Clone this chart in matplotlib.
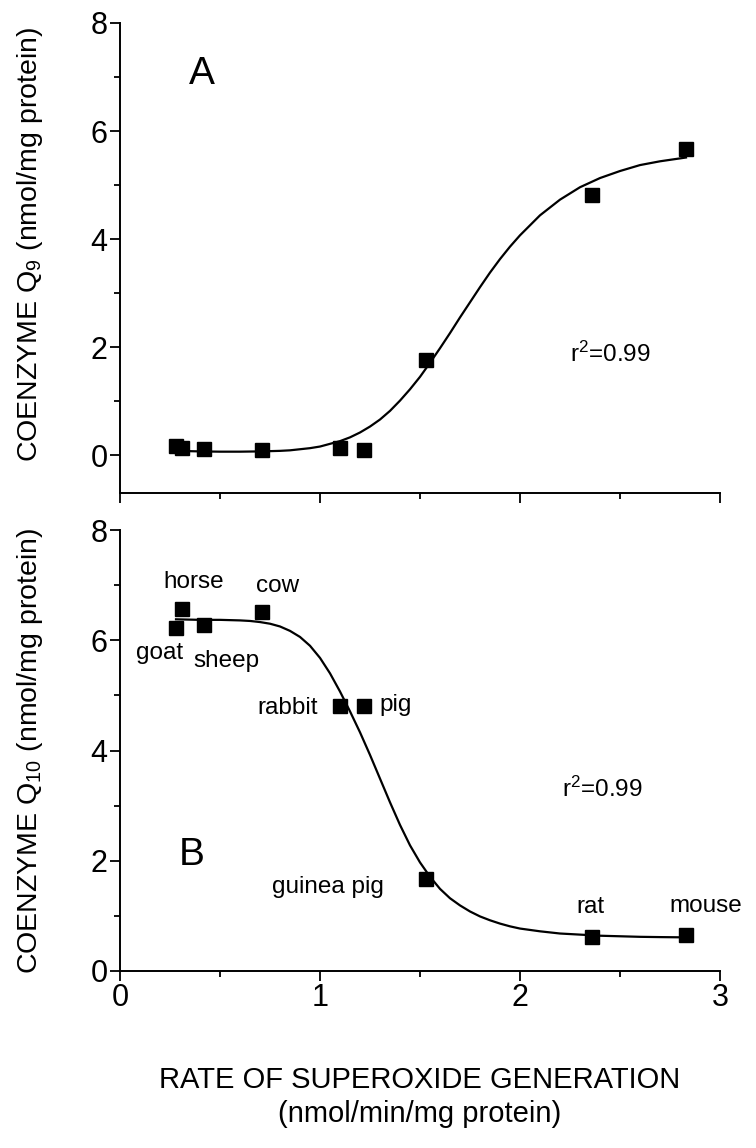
import numpy as np
import matplotlib
matplotlib.use('Agg')
import matplotlib.pyplot as plt
from matplotlib.ticker import MultipleLocator

plt.rcParams['font.family'] = ['Liberation Sans', 'DejaVu Sans']
plt.rcParams['mathtext.fontset'] = 'custom'
plt.rcParams['mathtext.rm'] = 'Liberation Sans'
plt.rcParams['mathtext.it'] = 'Liberation Sans:italic'

# species, ordered by rate of superoxide generation
species = ['goat', 'horse', 'sheep', 'cow', 'rabbit', 'pig', 'guinea pig', 'rat', 'mouse']
rate = [0.28, 0.31, 0.42, 0.71, 1.10, 1.22, 1.53, 2.36, 2.83]
coq9 = [0.17, 0.14, 0.11, 0.10, 0.14, 0.09, 1.77, 4.81, 5.66]
coq10 = [6.23, 6.56, 6.27, 6.51, 4.80, 4.80, 1.67, 0.62, 0.66]

# fitted curves
fit9_x = [0.28, 0.4, 0.5, 0.6, 0.7, 0.8, 0.85, 0.9, 0.95, 1.0, 1.05, 1.1, 1.15, 1.2,
          1.25, 1.3, 1.35, 1.4, 1.45, 1.5, 1.55, 1.6, 1.65, 1.7, 1.75, 1.8, 1.85,
          1.9, 1.95, 2.0, 2.1, 2.2, 2.3, 2.4, 2.5, 2.6, 2.7, 2.83]
fit9 = [0.08, 0.07, 0.065, 0.065, 0.07, 0.08, 0.09, 0.11, 0.13, 0.16, 0.21, 0.26,
        0.33, 0.42, 0.53, 0.66, 0.82, 1.01, 1.22, 1.45, 1.71, 1.98, 2.26, 2.55,
        2.83, 3.11, 3.38, 3.63, 3.86, 4.07, 4.44, 4.73, 4.96, 5.13, 5.26, 5.37,
        5.44, 5.51]
fit10_x = [0.28, 0.4, 0.5, 0.6, 0.65, 0.7, 0.75, 0.8, 0.85, 0.9, 0.95, 1.0, 1.05,
           1.1, 1.15, 1.2, 1.25, 1.3, 1.35, 1.4, 1.45, 1.5, 1.55, 1.6, 1.65, 1.7,
           1.75, 1.8, 1.85, 1.9, 1.95, 2.0, 2.1, 2.2, 2.3, 2.4, 2.5, 2.6, 2.7, 2.83]
fit10 = [6.38, 6.37, 6.37, 6.36, 6.35, 6.33, 6.30, 6.25, 6.17, 6.06, 5.90, 5.68,
         5.40, 5.07, 4.71, 4.33, 3.92, 3.49, 3.06, 2.65, 2.28, 1.97, 1.71, 1.49,
         1.32, 1.19, 1.08, 0.99, 0.92, 0.86, 0.81, 0.77, 0.72, 0.68, 0.66, 0.64,
         0.63, 0.62, 0.615, 0.61]

# label positions (data coords) for panel B
lab_x = [0.20, 0.37, 0.53, 0.79, 0.84, 1.38, 1.04, 2.35, 2.93]
lab_y = [5.77, 7.05, 5.63, 6.99, 4.78, 4.82, 1.52, 1.16, 1.18]

fig = plt.figure(figsize=(7.56, 11.48), dpi=100)
ax1 = fig.add_axes([120/756, 1 - 493/1148, 600/756, 470/1148])
ax2 = fig.add_axes([120/756, 1 - 971/1148, 600/756, 441/1148])

for ax in (ax1, ax2):
    ax.spines['top'].set_visible(False)
    ax.spines['right'].set_visible(False)
    ax.spines['left'].set_linewidth(1.4)
    ax.spines['bottom'].set_linewidth(1.4)
    ax.set_xlim(0, 3)
    ax.xaxis.set_major_locator(MultipleLocator(1))
    ax.xaxis.set_minor_locator(MultipleLocator(0.5))
    ax.yaxis.set_major_locator(MultipleLocator(2))
    ax.yaxis.set_minor_locator(MultipleLocator(1))
    ax.tick_params(which='major', direction='out', length=7, width=1.3,
                   labelsize=22, pad=2)
    ax.tick_params(which='minor', direction='out', length=4.5, width=1.3)

ax1.set_ylim(-0.7, 8)
ax2.set_ylim(0, 8)
ax1.tick_params(axis='x', labelbottom=False)

ax1.plot(fit9_x, fit9, color='black', lw=1.6)
ax1.plot(rate, coq9, 's', color='black', ms=9.5)
ax2.plot(fit10_x, fit10, color='black', lw=1.6)
ax2.plot(rate, coq10, 's', color='black', ms=9.5)

for name, lx, ly in zip(species, lab_x, lab_y):
    ax2.text(lx, ly, name, fontsize=17.5, ha='center', va='center')

ax1.text(0.41, 7.06, 'A', fontsize=28, ha='center', va='center')
ax2.text(0.36, 2.11, 'B', fontsize=28, ha='center', va='center')
ax1.text(2.25, 1.86, 'r$^2$=0.99', fontsize=17.5, ha='left', va='center')
ax2.text(2.21, 3.30, 'r$^2$=0.99', fontsize=17.5, ha='left', va='center')

ax1.set_ylabel('COENZYME Q$_9$ (nmol/mg protein)', fontsize=20.5)
ax2.set_ylabel('COENZYME Q$_{10}$ (nmol/mg protein)', fontsize=20.5)
ax1.yaxis.set_label_coords(-0.125, 0.53)
ax2.yaxis.set_label_coords(-0.125, 0.5)
ax2.set_xlabel('RATE OF SUPEROXIDE GENERATION\n(nmol/min/mg protein)',
               fontsize=21, linespacing=1.25, labelpad=38)

fig.savefig('out.png', dpi=100)
